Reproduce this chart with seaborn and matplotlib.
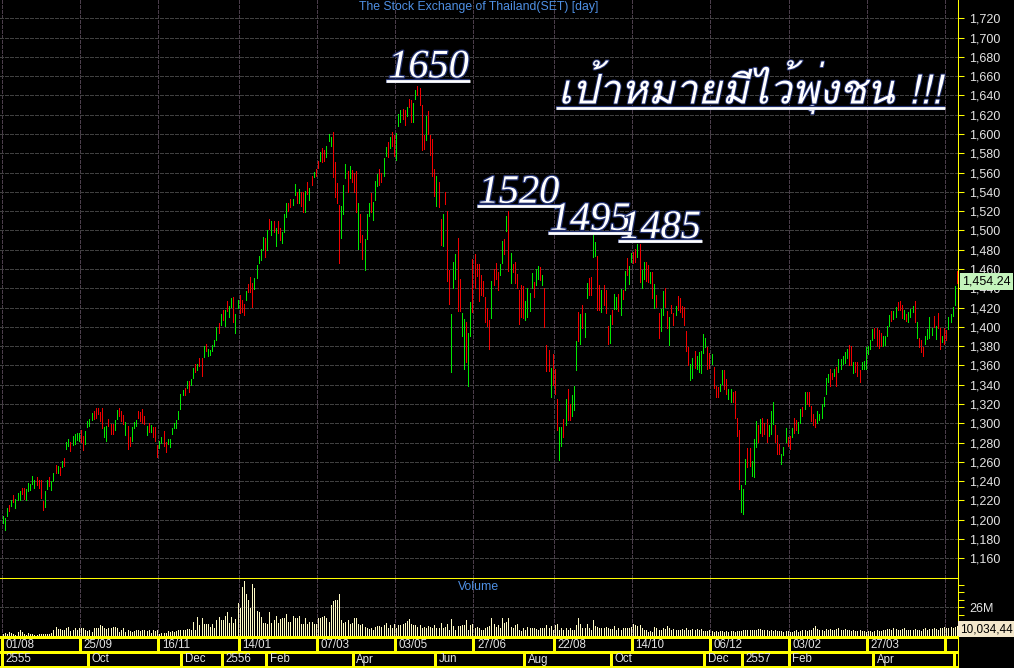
import numpy as np
import pandas as pd
import matplotlib
matplotlib.use("Agg")
import matplotlib.pyplot as plt
import matplotlib.patheffects as pe
from matplotlib import font_manager
from matplotlib.ft2font import FT2Font
from matplotlib.lines import Line2D
from matplotlib.transforms import IdentityTransform
import seaborn as sns

# ---------------- data (SET index, daily, Aug 2012 - May 2014) ----------------
high = [
    1204, 1202, 1212, 1215, 1221, 1226, 1222, 1228, 1230, 1233,
    1233, 1232, 1238, 1237, 1245, 1241, 1244, 1241, 1241, 1219,
    1230, 1241, 1244, 1240, 1249, 1257, 1256, 1255, 1261, 1264,
    1281, 1284, 1281, 1287, 1289, 1290, 1290, 1293, 1287, 1292,
    1302, 1305, 1311, 1313, 1316, 1316, 1312, 1316, 1296, 1297,
    1304, 1299, 1299, 1303, 1314, 1316, 1313, 1309, 1301, 1297,
    1286, 1296, 1301, 1303, 1313, 1312, 1315, 1308, 1297, 1300,
    1298, 1296, 1296, 1278, 1282, 1286, 1292, 1281, 1284, 1284,
    1295, 1300, 1303, 1313, 1330, 1335, 1337, 1344, 1344, 1346,
    1357, 1362, 1362, 1368, 1368, 1380, 1382, 1377, 1376, 1381,
    1386, 1400, 1404, 1413, 1418, 1418, 1427, 1422, 1430, 1431,
    1413, 1428, 1433, 1428, 1424, 1437, 1445, 1452, 1446, 1451,
    1464, 1474, 1481, 1493, 1492, 1500,
    1512, 1510, 1510, 1503, 1510, 1503, 1498, 1517, 1528, 1529,
    1533, 1533, 1548, 1540, 1543, 1540, 1540, 1541, 1550, 1544,
    1556, 1561, 1564, 1572, 1581, 1586, 1583, 1588, 1600, 1597,
    1602, 1571, 1549,
    1526, 1525, 1547, 1569, 1562, 1567, 1563, 1560, 1562, 1528,
    1517, 1495, 1491, 1517, 1529, 1539, 1530, 1551, 1559, 1564,
    1560, 1575, 1587, 1592, 1597, 1602, 1599, 1601, 1621, 1625,
    1626, 1625, 1628, 1636, 1635, 1632, 1646, 1650, 1648, 1630,
    1599, 1619, 1624, 1599, 1595, 1564, 1557, 1550, 1512, 1517,
    1540, 1520, 1459, 1413, 1467, 1476, 1492,
    1450, 1414, 1408, 1405, 1394, 1426, 1470, 1476, 1465, 1465,
    1454, 1448, 1431, 1420, 1407, 1448, 1460, 1466, 1457, 1465,
    1489, 1491, 1515, 1520, 1477, 1465, 1467, 1455, 1438, 1443,
    1442, 1427, 1440, 1435, 1456, 1447, 1460,
    1463, 1462, 1454, 1440, 1381, 1376, 1357, 1372, 1356, 1325,
    1296, 1296, 1304, 1325, 1336, 1320, 1329, 1339, 1385, 1415,
    1413, 1423, 1414, 1446, 1451, 1452, 1495, 1488, 1474, 1443,
    1438, 1443, 1438, 1401, 1412, 1418, 1434, 1431, 1434, 1439,
    1438, 1458, 1471, 1463, 1477, 1478, 1481, 1486, 1486, 1459,
    1467, 1467, 1464, 1457, 1457, 1444, 1433, 1414, 1419, 1437,
    1440, 1417, 1410, 1423, 1414, 1422,
    1432, 1430, 1422, 1421, 1396, 1379, 1362, 1368, 1375, 1370,
    1374, 1375, 1393, 1389, 1379, 1373, 1372, 1358, 1339, 1338,
    1341, 1355, 1355, 1346, 1336, 1336, 1332, 1334, 1306, 1293,
    1236, 1232, 1263, 1274, 1274, 1261, 1284, 1302, 1298, 1305,
    1306, 1300, 1305, 1298, 1313, 1322, 1298, 1288, 1279, 1268,
    1275, 1295, 1286, 1287, 1295, 1306, 1303, 1301, 1315, 1317,
    1333, 1332, 1333, 1318, 1310, 1305, 1313, 1310, 1320, 1327,
    1347, 1351, 1356, 1352, 1356, 1358, 1367, 1367, 1370, 1374,
    1377, 1381, 1380, 1364, 1364, 1364, 1355, 1364, 1365, 1379,
    1380, 1386, 1398, 1399, 1399, 1397, 1394, 1391, 1391, 1401,
    1412, 1417, 1416, 1421, 1426, 1427, 1423, 1418, 1413, 1415,
    1419, 1422, 1427, 1405, 1389, 1386, 1379, 1391, 1398, 1410,
    1399, 1411, 1401, 1414, 1399, 1391, 1399, 1397, 1410, 1413,
    1421, 1442, 1458,
]

low = [
    1197, 1189, 1204, 1209, 1214, 1218, 1212, 1220, 1221, 1227,
    1222, 1221, 1230, 1231, 1237, 1233, 1236, 1233, 1223, 1210,
    1213, 1232, 1235, 1231, 1240, 1248, 1249, 1246, 1255, 1256,
    1273, 1276, 1271, 1278, 1279, 1283, 1282, 1281, 1272, 1279,
    1296, 1297, 1303, 1304, 1306, 1310, 1302, 1295, 1286, 1282,
    1297, 1289, 1289, 1293, 1305, 1308, 1302, 1299, 1288, 1273,
    1277, 1282, 1295, 1297, 1306, 1302, 1300, 1299, 1288, 1291,
    1291, 1286, 1282, 1265, 1274, 1280, 1277, 1270, 1279, 1275,
    1289, 1295, 1295, 1305, 1315, 1329, 1329, 1337, 1332, 1340,
    1347, 1353, 1355, 1359, 1349, 1369, 1375, 1370, 1371, 1375,
    1380, 1386, 1394, 1402, 1407, 1401, 1416, 1410, 1421, 1405,
    1394, 1420, 1414, 1415, 1412, 1428, 1436, 1436, 1421, 1439,
    1451, 1466, 1469, 1480, 1472, 1480,
    1502, 1495, 1498, 1484, 1497, 1490, 1487, 1498, 1514, 1520,
    1524, 1526, 1537, 1528, 1529, 1525, 1519, 1519, 1538, 1532,
    1547, 1555, 1556, 1565, 1572, 1571, 1572, 1576, 1593, 1588,
    1555, 1535, 1528,
    1466, 1492, 1517, 1554, 1540, 1554, 1550, 1540, 1519, 1481,
    1488, 1470, 1459, 1491, 1515, 1519, 1511, 1532, 1546, 1547,
    1550, 1556, 1577, 1576, 1586, 1588, 1577, 1573, 1608, 1612,
    1616, 1609, 1619, 1628, 1612, 1612, 1636, 1640, 1630, 1583,
    1585, 1594, 1600, 1578, 1556, 1536, 1525, 1524, 1485, 1484,
    1527, 1448, 1424, 1353, 1440, 1450, 1416,
    1416, 1391, 1356, 1364, 1339, 1391, 1415, 1440, 1453, 1427,
    1433, 1432, 1405, 1401, 1377, 1409, 1443, 1450, 1438, 1454,
    1466, 1476, 1499, 1458, 1446, 1457, 1446, 1440, 1403, 1410,
    1409, 1407, 1410, 1417, 1440, 1431, 1443,
    1450, 1449, 1443, 1400, 1354, 1354, 1327, 1340, 1330, 1293,
    1262, 1276, 1286, 1298, 1303, 1303, 1308, 1314, 1355, 1385,
    1382, 1399, 1390, 1430, 1433, 1433, 1472, 1474, 1418, 1418,
    1415, 1423, 1414, 1382, 1383, 1403, 1419, 1419, 1416, 1412,
    1429, 1438, 1454, 1444, 1467, 1466, 1467, 1473, 1447, 1440,
    1450, 1448, 1447, 1446, 1430, 1420, 1421, 1389, 1396, 1412,
    1421, 1399, 1381, 1414, 1402, 1412,
    1418, 1415, 1410, 1402, 1375, 1360, 1345, 1347, 1357, 1356,
    1353, 1352, 1373, 1379, 1356, 1357, 1362, 1337, 1327, 1327,
    1334, 1341, 1336, 1330, 1325, 1322, 1322, 1306, 1287, 1232,
    1208, 1206, 1237, 1255, 1256, 1245, 1244, 1275, 1281, 1290,
    1287, 1289, 1281, 1287, 1289, 1299, 1281, 1268, 1268, 1258,
    1267, 1281, 1277, 1273, 1286, 1290, 1293, 1290, 1300, 1308,
    1315, 1320, 1318, 1302, 1298, 1296, 1300, 1303, 1306, 1318,
    1330, 1343, 1339, 1346, 1349, 1339, 1353, 1356, 1362, 1363,
    1368, 1360, 1360, 1352, 1353, 1349, 1343, 1356, 1356, 1356,
    1372, 1377, 1386, 1389, 1380, 1378, 1380, 1380, 1381, 1391,
    1401, 1406, 1408, 1410, 1418, 1418, 1409, 1408, 1406, 1405,
    1410, 1415, 1405, 1389, 1379, 1374, 1370, 1382, 1387, 1389,
    1392, 1400, 1387, 1399, 1377, 1384, 1382, 1386, 1398, 1405,
    1411, 1423, 1446,
]

# 1 = day closed up (green), 0 = day closed down (red)
rising = [
    1, 1, 1, 0, 1, 0, 1, 1, 1, 0,  0, 1, 1, 1, 1, 1, 0, 0, 0, 0,
    1, 1, 0, 1, 1, 0, 1, 0, 1, 0,  1, 1, 0, 1, 1, 1, 1, 0, 0, 1,
    1, 1, 1, 0, 0, 0, 0, 0, 1, 1,  0, 0, 0, 1, 1, 0, 0, 0, 1, 0,
    0, 1, 1, 1, 0, 0, 0, 0, 1, 0,  1, 0, 0, 0, 1, 1, 0, 0, 1, 1,
    1, 1, 1, 1, 1, 1, 0, 1, 0, 1,  1, 0, 1, 0, 0, 1, 0, 1, 1, 1,
    1, 1, 0, 1, 0, 1, 0, 1, 1, 0,  1, 1, 0, 0, 0, 1, 0, 0, 0, 1,
    1, 1, 1, 1, 0, 1,
    0, 1, 0, 1, 0, 0, 1, 1, 1, 0,  0, 1, 1, 0, 1, 0, 0, 1, 0, 1,
    0, 1, 0, 0, 1, 0, 0, 1, 1, 1,  0, 0, 0,
    0, 1, 1, 1, 0, 1, 0, 0, 0, 1,  0, 0, 1, 1, 1, 0, 1, 1, 1, 0,
    0, 1, 1, 0, 1, 0, 0, 1, 1, 1,  0, 0, 1, 0, 0, 1, 1, 0, 0, 0,
    0, 1, 0, 0, 0, 0, 1, 0, 0, 1,  0, 0, 0, 1, 1, 1, 0,
    0, 1, 1, 0, 1, 1, 0, 0, 0, 0,  0, 0, 0, 0, 0, 1, 0, 0, 0, 1,
    1, 0, 1, 0, 1, 0, 0, 0, 0, 0,  0, 1, 1, 1, 1, 0, 1,
    1, 0, 1, 0, 0, 0, 1, 0, 0, 0,  1, 1, 0, 1, 0, 0, 1, 1, 1, 0,
    1, 0, 1, 1, 0, 0, 1, 1, 0, 0,  1, 0, 0, 0, 1, 0, 1, 1, 0, 1,
    0, 1, 0, 1, 1, 0, 0, 1, 0, 1,  1, 0, 0, 1, 0, 1, 0, 0, 1, 1,
    0, 0, 1, 0, 0, 1,
    0, 0, 0, 0, 0, 0, 1, 1, 0, 1,  1, 1, 1, 1, 0, 0, 1, 0, 0, 0,
    1, 1, 0, 0, 1, 1, 0, 0, 0, 0,  1, 1, 1, 0, 0, 1, 1, 1, 0, 1,
    0, 0, 0, 1, 1, 1, 0, 0, 0, 1,  1, 1, 0, 0, 1, 0, 0, 1, 1, 0,
    1, 0, 0, 0, 0, 0, 1, 1, 1, 1,  1, 1, 0, 0, 1, 0, 1, 1, 1, 1,
    1, 0, 0, 1, 0, 0, 0, 1, 1, 1,  1, 1, 1, 0, 0, 0, 0, 1, 1, 1,
    1, 0, 1, 1, 0, 0, 0, 1, 0, 1,  1, 1, 0, 1, 0, 0, 0, 1, 1, 1,
    1, 0, 1, 0, 0, 1, 0, 0, 1, 1,  1, 1, 0,
]

# daily volume (millions of shares)
volume = [
    3.0, 3.5, 3.0, 4.4, 3.8, 3.0, 2.1, 4.4, 5.9, 4.4,
    3.0, 2.1, 3.8, 3.0, 2.4, 1.5, 2.1, 3.0, 2.4, 3.0,
    3.0, 3.0, 2.4, 3.8, 5.9, 8.9, 6.8, 6.8, 5.9, 5.9,
    7.4, 8.9, 5.0, 5.9, 7.4, 5.9, 7.4, 7.4, 7.4, 5.9,
    5.0, 5.9, 4.4, 7.4, 8.0, 7.4, 10.3, 9.5, 8.0, 6.8,
    7.4, 7.4, 8.3, 8.9, 7.4, 4.4, 5.9, 7.4, 4.4, 5.9,
    5.0, 4.4, 5.0, 5.9, 5.9, 5.3, 5.9, 5.9, 5.3, 5.9,
    3.8, 5.9, 5.3, 5.9, 3.0, 3.5, 3.8, 3.8, 5.0, 4.4,
    5.3, 4.4, 5.0, 5.9, 5.9, 5.9, 5.9, 6.8, 6.8, 5.9,
    13.3, 6.5, 17.1, 10.3, 16.3, 10.9, 10.9, 10.9, 8.9, 10.9,
    7.4, 14.8, 17.1, 14.8, 14.8, 18.3, 21.3, 11.8, 17.7, 11.8,
    15.4, 29.6, 25.1, 43.7, 48.2, 36.9, 32.5, 25.1, 45.8, 42.8,
    22.2, 21.3, 17.7, 12.4, 12.4, 11.2, 21.3, 11.8, 14.8, 18.6,
    11.8, 15.7, 16.3, 16.3, 20.1, 12.7, 12.7, 18.3, 16.3, 16.3,
    18.3, 10.9, 10.9, 16.3, 10.9, 13.3, 13.3, 10.9, 10.9, 16.3,
    16.3, 17.7, 18.6, 16.3, 13.3,
    28.1, 31.0, 32.5, 32.5, 36.9, 14.8, 12.4, 13.3, 14.8, 10.9,
    11.8, 16.3, 16.3, 10.9, 10.3, 10.9, 8.9, 8.0, 6.8, 7.4,
    5.9, 8.9, 9.5, 9.5, 8.9, 10.3, 11.8, 8.0, 10.3, 7.4,
    10.9, 7.4, 10.3, 10.3, 10.9, 12.4, 14.2, 15.4, 11.2, 10.3,
    10.3, 8.9, 10.3, 7.4, 8.9, 7.4, 9.5, 8.9, 7.4, 10.3,
    8.0, 7.4, 11.8, 7.4, 8.9, 10.9, 6.5, 15.4, 9.5, 6.5,
    9.8, 9.5, 10.3, 10.3, 14.8, 6.5, 10.3, 10.9, 7.4, 8.9,
    7.4, 6.5, 5.9, 7.4, 8.9, 9.5, 16.3, 10.9, 8.9, 10.3,
    8.0, 16.3, 11.8, 13.3, 16.3, 8.9, 7.4, 10.3, 10.9, 6.5,
    5.0, 7.4, 5.9, 8.9, 7.4, 8.0, 7.4, 6.8, 6.5, 7.4,
    7.4, 7.4, 10.3, 7.4, 9.8, 5.9, 10.3, 11.2, 5.9, 8.0,
    5.9, 8.0, 5.9, 8.0, 6.5, 5.9, 10.3, 16.3, 10.9, 8.0,
    8.0, 11.2, 8.0, 6.5, 14.8, 9.5, 8.9, 7.4, 7.4, 7.4,
    8.9, 7.4, 6.8, 6.8, 9.5, 6.5, 8.0, 5.9, 7.4, 7.4,
    8.0, 8.0, 8.9, 10.9, 10.3, 9.8, 10.3, 7.4, 6.5, 6.5,
    4.4, 5.0, 4.4, 8.9, 7.4, 6.5,
    6.4, 7.8, 6.9, 9.2, 7.8, 6.4, 6.9, 5.8, 6.4, 6.4,
    6.9, 6.4, 7.8, 6.4, 6.4, 6.9, 5.8, 6.9, 6.4, 6.9,
    4.9, 5.5, 4.9, 5.8, 4.9, 4.6, 5.2, 4.3, 4.9, 5.2,
    4.6, 4.9, 4.3, 4.9, 5.2, 4.6, 4.9, 5.5, 4.9,
    5.8, 6.4, 5.8, 5.8, 6.1, 6.4, 5.8, 6.9, 7.2, 6.4,
    5.8, 6.1, 5.5, 5.8, 5.2, 5.8, 5.5, 4.9, 5.2,
    4.6, 4.9, 5.2, 4.6, 4.3, 4.9, 5.8, 4.6, 5.5, 6.4,
    5.8, 4.9, 5.8, 6.4, 7.8, 9.2, 6.9, 5.8, 6.4,
    5.5, 6.9, 6.4, 7.2, 6.4, 5.8, 6.9, 7.5, 6.4, 5.8,
    6.9, 6.4, 5.8, 5.5, 5.8, 4.9, 5.5, 5.8, 4.9,
    5.2, 4.6, 5.5, 4.9, 4.3, 5.2, 5.8, 4.9, 5.5, 5.8,
    6.4, 6.9, 7.2, 6.4, 7.8, 6.9, 5.8, 6.4, 6.9,
    7.5, 6.4, 5.8, 6.4, 5.8, 6.9, 6.4, 5.8, 5.5, 6.9,
    7.5, 6.4, 7.2, 6.9, 7.8, 6.9, 6.4, 8.1, 7.8, 8.7,
    7.5, 8.1, 8.7, 7.8, 8.7, 9.5,
]

last_close = 1454.24
last_close_text = "1,454.24"
last_volume_text = "10,034,44"

# first trading bar of each date cell (top row) and month / year cell (bottom row)
date_labels = ["01/08", "25/09", "16/11", "14/01", "07/03", "03/05",
               "27/06", "22/08", "14/10", "06/12", "03/02", "27/03"]
date_idx = [0, 37, 74, 112, 149, 186, 223, 261, 298, 335, 372, 409, 446]
month_labels = ["2555", "Oct", "Dec", "2556", "Feb", "Apr", "Jun",
                "Aug", "Oct", "Dec", "2557", "Feb", "Apr"]
month_idx = [0, 41, 85, 104, 125, 166, 205, 247, 288, 332, 350, 372, 412, 450]

price_ticks = list(range(1160, 1721, 20))
vol_ticks = [6.5, 13, 19.5, 26, 32.5, 39, 45.5]
vol_label_tick = 26

peak_labels = ["1650", "1520", "1495", "1485"]
peak_idx = [197, 240, 280, 301]
peak_val = [1650, 1520, 1495, 1486]
peak_offset = [(9, 8.5), (8.5, 8.5), (-5, 5.5), (21, 6)]   # pixels, text baseline
slogan = "เป้าหมายมีไว้พุ่งชน !!!"
title = "The Stock Exchange of Thailand(SET) [day]"

# ---------------- style ----------------
UP, DOWN = "#00e800", "#f00000"
VOLC = "#fffbc4"
YEL = "#ffff00"
BLUE = "#4f90e4"
TXT = "#e4e4e4"
HGRID, VGRID = "#404040", "#4a3d4a"
DASH = (0, (3, 2))
LW = 0.72

sns.set_theme(style="dark", rc={
    "axes.facecolor": "#000000", "figure.facecolor": "#000000",
    "savefig.facecolor": "#000000", "axes.edgecolor": YEL,
})
plt.rcParams["font.family"] = ["Liberation Sans", "DejaVu Sans"]
plt.rcParams["lines.solid_capstyle"] = "butt"


def find_thai_font():
    found = []
    for f in font_manager.fontManager.ttflist:
        if "CJK" in f.name:
            continue
        try:
            cmap = FT2Font(f.fname).get_charmap()
        except Exception:
            continue
        if all(ord(c) in cmap for c in "เป้าหมายมีไว้พุ่งชน"):
            found.append(f)
    if not found:
        return None
    def wnum(f):
        try:
            return abs(int(f.weight) - 400)
        except Exception:
            return 0 if str(f.weight) in ("normal", "regular", "book") else 300
    found.sort(key=lambda f: (f.style not in ("italic", "oblique"), wnum(f), "Sans" in f.name))
    return found[0].fname


W, H = 1014, 668
fig = plt.figure(figsize=(W / 100, H / 100), dpi=100)
ax_p = fig.add_axes([0, 90 / H, 958 / W, 578 / H])
ax_v = fig.add_axes([0, 31 / H, 958 / W, 59 / H])
ax_d = fig.add_axes([0, 0, 958 / W, 31 / H])

n = len(high)
assert len(low) == n and len(rising) == n and len(volume) == n, (len(high), len(low), len(rising), len(volume))
bar = np.arange(n)
xlim = (-1.276, n - 0.5)

# price bars (high-low lines coloured by direction)
ohlc = pd.DataFrame({
    "bar": np.repeat(bar, 2),
    "price": np.column_stack([low, high]).ravel(),
    "trend": np.repeat(np.where(np.asarray(rising) == 1, "up", "down"), 2),
})
sns.lineplot(data=ohlc, x="bar", y="price", units="bar", hue="trend",
             estimator=None, sort=False, palette={"up": UP, "down": DOWN},
             legend=False, linewidth=LW, antialiased=False, ax=ax_p, zorder=3)

# volume
vol = pd.DataFrame({
    "bar": np.repeat(bar, 2),
    "vol": np.column_stack([np.zeros(n), volume]).ravel(),
})
sns.lineplot(data=vol, x="bar", y="vol", units="bar", estimator=None, sort=False,
             color=VOLC, linewidth=LW, antialiased=False, ax=ax_v, zorder=3)

seps = np.asarray(date_idx) - 0.5
for ax in (ax_p, ax_v, ax_d):
    ax.set_xlim(*xlim)
    ax.set(xlabel="", ylabel="")
    for s in ax.spines.values():
        s.set_visible(False)
    ax.spines["right"].set_visible(True)
    ax.spines["right"].set_color(YEL)
    ax.spines["right"].set_linewidth(0.75)

# price axis
ax_p.set_ylim(1139.6, 1739.0)
ax_p.set_yticks(price_ticks)
ax_p.set_yticklabels([f"{v:,}" for v in price_ticks])
ax_p.yaxis.tick_right()
ax_p.set_xticks(seps)
ax_p.tick_params(axis="x", length=0, labelbottom=False)
ax_p.tick_params(axis="y", right=True, left=False, labelright=True, labelleft=False,
                 color=YEL, labelcolor=TXT, length=4, width=0.75, pad=4, labelsize=9)
ax_p.grid(False)
ax_p.yaxis.grid(True, color=HGRID, linestyle=DASH, linewidth=0.72, antialiased=False)
ax_p.xaxis.grid(True, color=VGRID, linestyle=DASH, linewidth=0.72, antialiased=False)
ax_p.set_axisbelow(True)

# volume axis
ax_v.set_ylim(0, 26 * 59 / 30)
ax_v.set_yticks(vol_ticks)
ax_v.set_yticklabels([f"{int(t)}M" if t == vol_label_tick else "" for t in vol_ticks])
ax_v.yaxis.tick_right()
ax_v.set_xticks(seps)
ax_v.tick_params(axis="x", length=0, labelbottom=False)
ax_v.tick_params(axis="y", right=True, left=False, labelright=True, labelleft=False,
                 color=YEL, labelcolor=TXT, length=4, width=0.75, pad=4, labelsize=9)
ax_v.grid(False)
ax_v.xaxis.grid(True, color=VGRID, linestyle=DASH, linewidth=0.72, antialiased=False)
ax_v.axhline(vol_label_tick, color=HGRID, linestyle=DASH, linewidth=0.72, antialiased=False, zorder=1)
ax_v.spines["top"].set_visible(True)
ax_v.spines["top"].set_color(YEL)
ax_v.spines["top"].set_linewidth(0.75)
ax_v.set_axisbelow(True)
ax_v.text(0.5, 0.85, "Volume", transform=ax_v.transAxes, ha="center", va="center",
          color=BLUE, fontsize=8.8, zorder=5)
ax_v.annotate(last_volume_text, xy=(1, 0), xycoords="axes fraction", xytext=(2, 2),
              textcoords="offset pixels", ha="left", va="bottom", fontsize=8.5, color="black",
              bbox=dict(boxstyle="square,pad=0.15", fc="#f4e8cc", ec="none"),
              annotation_clip=False, zorder=10)

# date rows
ax_d.set_ylim(-1 / 15, 2)
ax_d.set_xticks([])
ax_d.set_yticks([])
ax_d.hlines([0, 1, 2], xlim[0], xlim[1], colors=YEL, linewidth=0.75, antialiased=False, clip_on=False)
ax_d.vlines(seps, 1, 2, colors=YEL, linewidth=0.75, antialiased=False)
ax_d.vlines(np.asarray(month_idx) - 0.5, 0, 1, colors=YEL, linewidth=0.75, antialiased=False)
for lab, i in zip(date_labels, date_idx):
    ax_d.annotate(lab, xy=(i - 0.5, 1.5), xytext=(3.5, 0), textcoords="offset pixels",
                  ha="left", va="center", fontsize=8.3, color=TXT)
for lab, i in zip(month_labels, month_idx):
    ax_d.annotate(lab, xy=(i - 0.5, 0.5), xytext=(3.5, 0), textcoords="offset pixels",
                  ha="left", va="center", fontsize=8.3, color=TXT)

# title & last price tag
ax_p.text(0.5, 1 - 7 / 578, title, transform=ax_p.transAxes, ha="center", va="center",
          color=BLUE, fontsize=8.8, zorder=5)
ax_p.annotate(last_close_text, xy=(1, last_close), xycoords=("axes fraction", "data"),
              xytext=(4, -1), textcoords="offset pixels", ha="left", va="top",
              fontsize=9, color="black", annotation_clip=False, zorder=10,
              bbox=dict(boxstyle="square,pad=0.2", fc="#c4f4bc", ec="none"))

# hand-written annotations
stroke = [pe.withStroke(linewidth=1.8, foreground="#22306e")]
peak_texts = []
for lab, i, v, (dx, dy) in zip(peak_labels, peak_idx, peak_val, peak_offset):
    t = ax_p.annotate(lab, xy=(i, v), xytext=(dx, dy), textcoords="offset pixels",
                      ha="center", va="baseline", color="white", fontsize=29,
                      family="Liberation Serif", style="italic", path_effects=stroke, zorder=6)
    peak_texts.append((t, i, v, dy))

thai = find_thai_font()
if thai:
    sfp = font_manager.FontProperties(fname=thai, size=34)
else:
    sfp = font_manager.FontProperties(family="DejaVu Serif", style="italic", size=30)
slogan_t = ax_p.text(942 / 958, 1 - 103.5 / 578, slogan, transform=ax_p.transAxes,
                     ha="right", va="baseline", color="white", fontproperties=sfp,
                     path_effects=[pe.withStroke(linewidth=1.4, foreground="#22306e")], zorder=6)

fig.canvas.draw()
r = fig.canvas.get_renderer()
w = slogan_t.get_window_extent(r).width
if w > 0:
    slogan_t.set_fontsize(sfp.get_size() * 384.0 / w)
fig.canvas.draw()
r = fig.canvas.get_renderer()

ul_kw = dict(color="white", linewidth=2.0, solid_capstyle="butt", transform=IdentityTransform(),
             path_effects=[pe.withStroke(linewidth=3.0, foreground="#22306e")], zorder=7)
for t, i, v, dy in peak_texts:
    bb = t.get_window_extent(r)
    ax_, ay_ = ax_p.transData.transform((i, v))
    yb = ay_ + dy - 3.5
    fig.add_artist(Line2D([bb.x0 - 2, bb.x1 + 1], [yb, yb], **ul_kw))
bb = slogan_t.get_window_extent(r)
_, sy = ax_p.transAxes.transform((0, 1 - 103.5 / 578))
fig.add_artist(Line2D([bb.x0 - 2, bb.x1 + 3], [sy - 4.5, sy - 4.5], **ul_kw))

fig.savefig("out.png", dpi=100, facecolor="black")
